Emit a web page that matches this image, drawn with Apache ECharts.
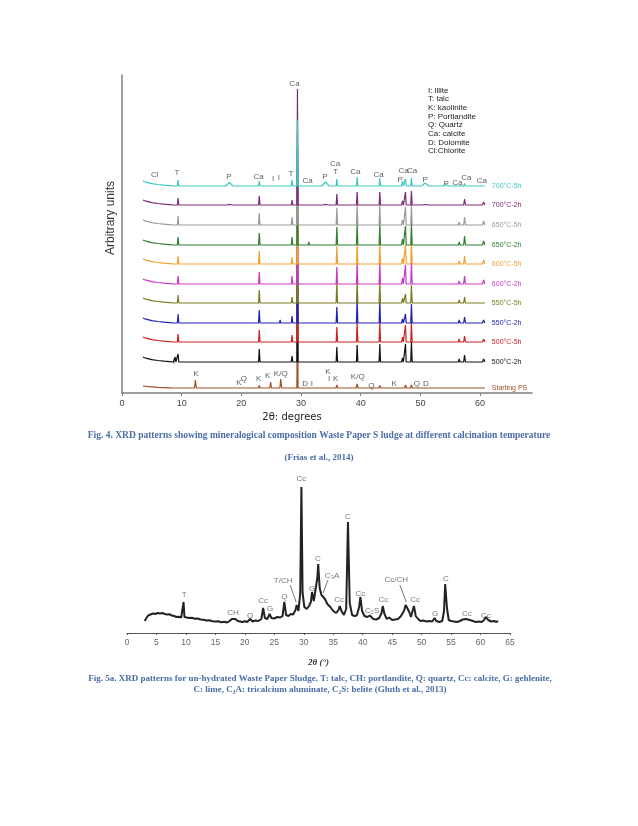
<!DOCTYPE html>
<html><head><meta charset="utf-8">
<script src="https://cdn.jsdelivr.net/npm/echarts@6/dist/echarts.min.js"></script>
<style>html,body{margin:0;padding:0;background:#fff}#c{width:638px;height:826px}</style>
</head><body><div id="c"></div>
<script>
// ---------- Fig. 4 data (intensities in arbitrary units) ----------
const seriesNames = ['700°C-5h','700°C-2h','650°C-5h','650°C-2h','600°C-5h','600°C-2h','550°C-5h','550°C-2h','500°C-5h','500°C-2h','Starting PS'];
const seriesOffsets = [207, 188, 168, 148, 129, 109, 90, 70, 51, 31, 5];
const calcinedBackground = [[3.5,5],[4,3.8],[5,2.4],[6,1.5],[7,0.8],[8,0.3],[8.6,0],[60.8,0]];
const startingBackground = [[3.5,2],[4.5,1.3],[6,0.6],[8,0.2],[8.6,0],[60.8,0]];
const peakPos  = [8.9, 9.4, 12.3, 18.0, 23.0, 25.2, 26.5, 28.5, 29.4, 31.3, 34.1, 36.0, 39.4, 43.2, 47.0, 47.5, 48.5, 50.8, 54.3, 56.5, 57.4, 60.6];
const peakFwhm = [0.12,0.12,0.15, 0.6, 0.12,0.12,0.12,0.12,0.1, 0.12,0.6, 0.12,0.12,0.12,0.15,0.12,0.12,0.6, 0.4, 0.15,0.15,0.2];
const h700_5h = [0, 6, 0, 3.5, 5, 1, 1.5, 6, 66, 1, 4, 7, 9, 8, 5, 7, 8, 3, 1.5, 1, 2.5, 1.5];
const h700_2h = [0, 7, 0, 0.5, 9, 1, 2, 5, 116, 2, 0.5, 11, 13, 13, 4, 13, 14, 0.5, 0, 2, 6, 3];
const h650_5h = [0, 9, 0, 0, 12, 1, 2, 8, 90, 2, 0, 17, 20, 20, 5, 18, 20, 0, 0, 3, 8, 4];
const h650_2h = [0, 8, 0, 0, 12, 1, 2, 8, 95, 3, 0, 18, 21, 21, 6, 19, 21, 0, 0, 3, 9, 4];
const h600_5h = [0, 8, 0, 0, 13, 1, 2, 7, 95, 2, 0, 18, 21, 21, 6, 19, 21, 0, 0, 3, 8, 4];
const h600_2h = [0, 8, 0, 0, 12, 1, 2, 8, 95, 2, 0, 17, 21, 21, 6, 19, 21, 0, 0, 3, 8, 4];
const h550_5h = [0, 8, 0, 0, 13, 1, 2, 6, 95, 2, 0, 21, 21, 21, 5, 9, 18, 0, 0, 3, 6, 2];
const h550_2h = [0, 9, 0, 0, 13, 1, 3, 7, 95, 2, 0, 16, 24, 21, 4, 9, 19, 0, 0, 3, 6, 3];
const h500_5h = [0, 8, 0, 0, 12, 1, 2, 7, 95, 2, 0, 15, 20, 20, 5, 17, 20, 0, 0, 3, 6, 3];
const h500_2h = [5, 8, 2, 0, 13, 1.5, 2, 6, 95, 2, 0, 15, 17, 18, 4, 18, 20, 0, 0, 3, 7, 3];
const startPos  = [9.4, 12.3, 19.8, 20.8, 23.0, 24.9, 26.6, 29.4, 31.0, 35.0, 36.0, 39.4, 42.4, 43.2, 45.5, 47.5, 48.5, 50.1, 57.4];
const startFwhm = [0.12,0.15,0.15,0.15,0.15,0.15,0.15,0.1, 0.15,0.15,0.15,0.15,0.15,0.15,0.15,0.15,0.15,0.15,0.15];
const hStarting = [1, 8, 1, 1.5, 2.5, 6, 9, 100, 1, 1, 3, 4, 1, 2.5, 1, 3, 3, 1, 1.5];
// peak annotations: [text, 2theta, height]
const fig4Labels = [
 ['Ca',28.9,309],['Cl',5.5,218],['T',9.2,220],['P',17.9,216],['Ca',22.9,216],['I',25.3,214],['I',26.3,215],
 ['T',28.3,219],['Ca',31.1,212],['P',34.0,216],['Ca',35.7,229],['T',35.8,221],['Ca',39.1,221],['Ca',43.0,218],
 ['P',46.6,213],['Ca',47.2,222],['Ca',48.6,222],['P',50.8,213],['P',54.3,209],['Ca',56.2,210],['Ca',57.7,215],['Ca',60.3,212],
 ['I',8.75,31],
 ['K',12.4,19],['K',19.6,10],['Q',20.4,14],['K',22.9,14],['K',24.4,17],['K/Q',26.6,19],['D',30.7,9],['I',31.8,9],
 ['K',34.5,21],['I',34.7,14],['K',35.8,14],['K/Q',39.5,16],['Q',41.8,7],['K',45.6,9],['Q',49.4,9],['D',50.9,9]
];
const fig4Legend = ['I: illite','T: talc','K: kaolinite','P: Portlandite','Q: Quartz','Ca: calcite','D: Dolomite','Cl:Chlorite'];
const fig4XTicks = [0,10,20,30,40,50,60];

// ---------- Fig. 5a data ----------
const fig5Pattern = [
 [3.0,12],[3.3,15],[3.6,17.5],[4.0,18.5],[4.4,19.5],[4.8,19],[5.2,20],[5.6,19.5],[6.0,20],[6.4,19],[6.8,18.5],[7.2,18.8],[7.6,17.5],[8.0,17],[8.4,16],[8.8,16.2],[9.2,15.5],[9.5,16],[9.6,31],[9.75,16],
 [10.0,16.5],[10.5,15],[11.0,15.3],[11.5,14.2],[12.0,14.5],[12.5,13.5],[13.0,13.2],[13.5,12.5],[14.0,12.8],[14.5,11.8],[15.0,11.5],[15.5,11.8],[16.0,10.8],[16.5,11.2],[17.0,10.5],[17.4,12],[17.8,14],[18.1,15.5],[18.4,14],[18.8,12],
 [19.2,11.5],[19.6,11],[20.0,11.8],[20.4,11],[20.9,14],[21.3,11.5],[21.8,12.5],[22.3,12],[22.8,14],[23.1,25],[23.4,15],[23.8,14],[24.2,19],[24.5,15],[25.0,14.5],[25.5,16],[26.0,15.5],[26.4,17],[26.7,31],[27.0,18],
 [27.4,17],[27.8,19],[28.2,18.5],[28.6,23],[28.8,28],[29.1,22],[29.4,40],[29.6,146],[29.8,40],[30.1,26],[30.5,24],[30.9,27],[31.2,31],[31.4,41],[31.7,32],[32.0,34],[32.3,55],[32.45,69],[32.7,45],[33.0,38],
 [33.3,36],[33.6,34],[34.0,29],[34.5,26],[35.0,22],[35.5,20],[35.9,23],[36.1,27],[36.4,22],[36.8,18],[37.2,24],[37.5,111],[37.8,30],[38.2,18],[38.6,17],[39.0,17.5],[39.4,26],[39.6,36],[39.9,22],[40.3,17],
 [40.8,16],[41.2,17.5],[41.4,16],[41.8,14],[42.3,13.5],[42.8,15],[43.2,20],[43.4,27],[43.7,19],[44.1,14],[44.5,15.5],[45.0,13],[45.5,13.5],[46.0,14],[46.5,17],[47.0,22],[47.3,28],[47.6,29],[47.9,21],[48.2,16],
 [48.5,23],[48.7,27],[49.0,17],[49.4,14],[49.8,12],[50.3,12.5],[50.8,11.5],[51.3,12],[51.8,11.5],[52.2,15],[52.5,12],[53.0,11],[53.5,12],[53.8,22],[54.0,49],[54.3,25],[54.6,13],[55.0,12],[55.5,11.5],[56.0,11],
 [56.5,12],[57.0,13.5],[57.5,14],[57.8,16],[58.2,13],[58.7,12],[59.2,11],[59.7,11.5],[60.2,11],[60.6,13],[60.9,16],[61.3,13],[61.8,11.5],[62.3,12],[62.7,11],[63.0,12]
];
const fig5Labels = [
 ['Cc',29.6,154],['T',9.7,38],['CH',18.0,20],['Q',20.9,17],['Cc',23.1,32],['G',24.3,24],['Q',26.7,36],['T/CH',26.5,52],
 ['G',31.4,44],['C',32.4,74],['C₃A',34.8,57],['Cc',36.0,33],['C',37.5,116],['Cc',39.6,39],['C₂S',41.6,22],['Cc',43.5,33],
 ['Cc/CH',45.7,53],['Cc',48.9,33],['G',52.3,19],['C',54.1,54],['Cc',57.7,19],['Cc',60.9,17]
];
const fig5Leaders = [[[27.7,48],[28.7,31]],[[34.1,53],[33.3,40]],[[46.3,48],[47.4,31]]];

const captions = [
 'Fig. 4. XRD patterns showing mineralogical composition Waste Paper S ludge at different calcination temperature',
 '(Frías et al., 2014)',
 'Fig. 5a. XRD patterns for un-hydrated Waste Paper Sludge. T: talc, CH: portlandite, Q: quartz, Cc: calcite, G: gehlenite,',
 'C: lime, C₃A: tricalcium aluminate, C₂S: belite (Gluth et al., 2013)'
];

// ---------- build ----------
const colors = ['#3ec6c6','#7a2a7a','#9a9a9a','#2f7f2f','#f0a032','#c838c8','#7a7a20','#2020b8','#cc2222','#111111','#a0502a'];
const heights = [h700_5h,h700_2h,h650_5h,h650_2h,h600_5h,h600_2h,h550_5h,h550_2h,h500_5h,h500_2h];

function buildPattern(bg, pos, fw, h, off){
  const pts = bg.map(p => [p[0], p[1] + off]);
  pos.forEach((x, i) => {
    if (h[i] > 0) { pts.push([x - fw[i], off], [x, off + h[i]], [x + fw[i], off]); }
  });
  pts.sort((a, b) => a[0] - b[0]);
  return pts;
}

const series = [];
// draw lowest first so upper patterns sit on top
for (let k = seriesNames.length - 1; k >= 0; k--) {
  const data = k === 10
    ? buildPattern(startingBackground, startPos, startFwhm, hStarting, seriesOffsets[k])
    : buildPattern(calcinedBackground, peakPos, peakFwhm, heights[k], seriesOffsets[k]);
  series.push({
    type: 'line', name: seriesNames[k], xAxisIndex: 0, yAxisIndex: 0, data,
    showSymbol: false, symbol: 'none', silent: true,
    lineStyle: { color: colors[k], width: 1.2 },
    endLabel: { show: true, formatter: seriesNames[k], color: colors[k], fontSize: 7, distance: 7, fontFamily: 'Liberation Sans' }
  });
}
series.push({
  type: 'scatter', xAxisIndex: 0, yAxisIndex: 0, symbolSize: 1, silent: true,
  itemStyle: { color: 'rgba(0,0,0,0)' },
  data: fig4Labels.map(l => ({ value: [l[1], l[2]], label: { formatter: l[0] } })),
  label: { show: true, position: 'inside', fontSize: 8, color: '#333', fontFamily: 'Liberation Sans' }
});
series.push({
  type: 'line', xAxisIndex: 1, yAxisIndex: 1, data: fig5Pattern, showSymbol: false, symbol: 'none', silent: true,
  lineStyle: { color: '#222', width: 2 }
});
series.push({
  type: 'scatter', xAxisIndex: 1, yAxisIndex: 1, symbolSize: 1, silent: true,
  itemStyle: { color: 'rgba(0,0,0,0)' },
  data: fig5Labels.map(l => ({ value: [l[1], l[2]], label: { formatter: l[0] } })),
  label: { show: true, position: 'inside', fontSize: 8, color: '#555', fontFamily: 'Liberation Sans' }
});
series.push({
  type: 'lines', coordinateSystem: 'cartesian2d', xAxisIndex: 1, yAxisIndex: 1, silent: true,
  data: fig5Leaders.map(c => ({ coords: c })),
  lineStyle: { color: '#555', width: 0.8, opacity: 1 }
});

const capColor = '#4a6da7';
const graphic = [
  { type: 'text', left: 428, top: 86, style: { text: fig4Legend.join('\n'), font: '8px "Liberation Sans"', fill: '#222', lineHeight: 8.7 } },
  { type: 'text', x: 111, y: 218, rotation: Math.PI / 2, style: { text: 'Arbitrary units', font: '12px "Liberation Sans"', fill: '#333', align: 'center', verticalAlign: 'middle' } },
  { type: 'text', x: 292, y: 417, style: { text: '2θ: degrees', font: '10px "DejaVu Sans"', fill: '#222', align: 'center', verticalAlign: 'middle' } },
  { type: 'text', x: 319, y: 436, style: { text: captions[0], font: 'bold 9.5px "Liberation Serif"', fill: capColor, align: 'center', verticalAlign: 'middle' } },
  { type: 'text', x: 319, y: 458, style: { text: captions[1], font: 'bold 9px "Liberation Serif"', fill: capColor, align: 'center', verticalAlign: 'middle' } },
  { type: 'text', x: 320, y: 679, style: { text: captions[2], font: 'bold 9px "Liberation Serif"', fill: capColor, align: 'center', verticalAlign: 'middle' } },
  { type: 'text', x: 320, y: 690, style: { text: captions[3], font: 'bold 9px "Liberation Serif"', fill: capColor, align: 'center', verticalAlign: 'middle' } }
];

const chart = echarts.init(document.getElementById('c'), null, { renderer: 'canvas' });
chart.setOption({
  backgroundColor: '#fff',
  animation: false,
  grid: [
    { left: 122, top: 75, width: 410, height: 318 },
    { left: 127, top: 473, width: 383, height: 160 }
  ],
  xAxis: [
    { gridIndex: 0, type: 'value', min: 0, max: 68.7, interval: 10, splitLine: { show: false },
      axisLine: { lineStyle: { color: '#808080', width: 1.5 } }, axisTick: { show: true, length: 3, lineStyle: { color: '#808080' } },
      axisLabel: { fontSize: 9, color: '#444', margin: 6, showMaxLabel: false, fontFamily: 'Liberation Sans',
        formatter: v => fig4XTicks.includes(v) ? String(v) : '' } },
    { gridIndex: 1, type: 'value', min: 0, max: 65, interval: 5, splitLine: { show: false },
      axisLine: { lineStyle: { color: '#555', width: 1 } }, axisTick: { show: true, length: 2, lineStyle: { color: '#555' } },
      axisLabel: { fontSize: 8.5, color: '#666', margin: 5, fontFamily: 'Liberation Sans' },
      name: '2θ (°)', nameLocation: 'middle', nameGap: 25,
      nameTextStyle: { fontSize: 9, fontWeight: 'bold', fontStyle: 'italic', color: '#333', fontFamily: 'Liberation Serif' } }
  ],
  yAxis: [
    { gridIndex: 0, type: 'value', min: 0, max: 318, splitLine: { show: false },
      axisLine: { show: true, lineStyle: { color: '#808080', width: 1.5 } }, axisTick: { show: false }, axisLabel: { show: false } },
    { gridIndex: 1, type: 'value', min: 0, max: 160, show: false }
  ],
  graphic,
  series
});
</script></body></html>
